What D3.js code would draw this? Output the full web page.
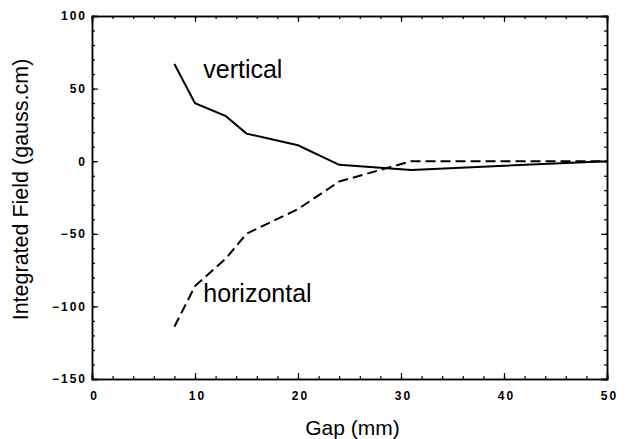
<!DOCTYPE html>
<html>
<head>
<meta charset="utf-8">
<script src="https://cdn.jsdelivr.net/npm/d3@7"></script>
<style>
  body { margin: 0; background: #fff; }
  text { font-family: "Liberation Sans", Arial, Helvetica, sans-serif; fill: #000; }
  .tick-label { font-size: 12px; font-weight: bold; letter-spacing: 2px; }
</style>
</head>
<body>
<div id="chart"></div>
<script>
// Gap (mm) values where the field was measured
const gap = [8, 10, 13, 15, 20, 24, 31, 50];
// Integrated field (gauss.cm)
const vertical = [67, 40, 31, 19, 11, -2.5, -6, 0];
const horizontal = [-114, -86, -67, -50, -33, -14, 0, 0];

const xTicks = [0, 10, 20, 30, 40, 50];
const yTicks = [-150, -100, -50, 0, 50, 100];

// Dimensions and margins
const margin = {top: 16, right: 21, bottom: 60, left: 92};
const width = 628 - margin.left - margin.right;
const height = 439 - margin.top - margin.bottom;

const svg = d3.select("#chart").append("svg")
    .attr("width", 628)
    .attr("height", 439)
  .append("g")
    .attr("transform", `translate(${margin.left},${margin.top})`);

// Scales
const x = d3.scaleLinear().domain([0, 50]).range([0, width]);
const y = d3.scaleLinear().domain([-150, 100]).range([height, 0]);

// Minor ticks (inward)
const xMinor = d3.range(0, 51, 2);
const yMinor = d3.range(-150, 101, 10);

svg.append("g")
    .attr("transform", `translate(0,${height})`)
    .call(d3.axisBottom(x).tickValues(xMinor).tickSize(-3).tickFormat(""));
svg.append("g")
    .call(d3.axisTop(x).tickValues(xMinor).tickSize(-3).tickFormat(""));
svg.append("g")
    .call(d3.axisLeft(y).tickValues(yMinor).tickSize(-3).tickFormat(""));
svg.append("g")
    .attr("transform", `translate(${width},0)`)
    .call(d3.axisRight(y).tickValues(yMinor).tickSize(-3).tickFormat(""));

// Major ticks with labels
const xAxis = svg.append("g")
    .attr("transform", `translate(0,${height})`)
    .call(d3.axisBottom(x).tickValues(xTicks).tickSize(-6).tickPadding(11));
svg.append("g")
    .call(d3.axisTop(x).tickValues(xTicks).tickSize(-6).tickFormat(""));
const yAxis = svg.append("g")
    .call(d3.axisLeft(y).tickValues(yTicks).tickSize(-6).tickPadding(7));
svg.append("g")
    .attr("transform", `translate(${width},0)`)
    .call(d3.axisRight(y).tickValues(yTicks).tickSize(-6).tickFormat(""));

xAxis.selectAll("text").attr("class", "tick-label").attr("dx", 2).attr("dy", "0.8em");
yAxis.selectAll("text").attr("class", "tick-label").attr("dx", 2);

svg.selectAll(".domain").attr("stroke", "#000").attr("stroke-width", 1.5);
svg.selectAll(".tick line").attr("stroke", "#000").attr("stroke-width", 1.2);

// Lines
const line = d3.line()
    .x((d, i) => x(gap[i]))
    .y(d => y(d));

svg.append("path")
    .datum(vertical)
    .attr("fill", "none")
    .attr("stroke", "#000")
    .attr("stroke-width", 2)
    .attr("d", line);

svg.append("path")
    .datum(horizontal)
    .attr("fill", "none")
    .attr("stroke", "#000")
    .attr("stroke-width", 2)
    .attr("stroke-dasharray", "10,5")
    .attr("d", line);

// Series labels
svg.append("text")
    .attr("x", x(10.8))
    .attr("y", y(57.5))
    .style("font-size", "25px")
    .text("vertical");

svg.append("text")
    .attr("x", x(10.8))
    .attr("y", y(-97))
    .style("font-size", "25px")
    .text("horizontal");

// Axis labels
svg.append("text")
    .attr("x", width / 2 + 3)
    .attr("y", height + 56)
    .style("text-anchor", "middle")
    .style("font-size", "21px")
    .text("Gap (mm)");

svg.append("text")
    .attr("transform", "rotate(-90)")
    .attr("x", -height / 2 + 8)
    .attr("y", -margin.left + 28)
    .style("text-anchor", "middle")
    .style("font-size", "21.5px")
    .text("Integrated Field (gauss.cm)");
</script>
</body>
</html>
